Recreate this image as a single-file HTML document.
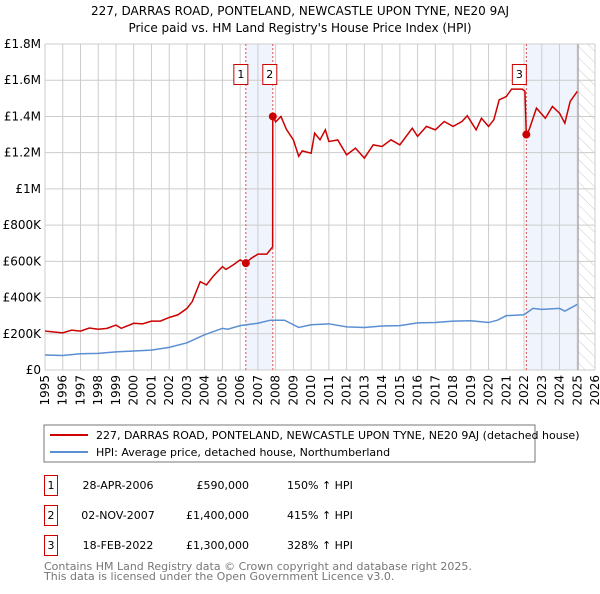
<!DOCTYPE html>
<html><head><meta charset="utf-8"><style>
body{margin:0;background:#fff;width:600px;height:590px;overflow:hidden;font-family:"DejaVu Sans","Liberation Sans",sans-serif}
svg text{font-family:"DejaVu Sans","Liberation Sans",sans-serif}
</style></head><body>
<svg id="chart" width="600" height="590" xmlns="http://www.w3.org/2000/svg">
<defs><pattern id="hatch" width="8" height="8" patternUnits="userSpaceOnUse" patternTransform="rotate(-45)"><line x1="0" y1="0" x2="0" y2="8" stroke="#ccc" stroke-width="1"/></pattern></defs>
<text x="300" y="15" text-anchor="middle" font-size="12">227, DARRAS ROAD, PONTELAND, NEWCASTLE UPON TYNE, NE20 9AJ</text>
<text x="300" y="32" text-anchor="middle" font-size="12">Price paid vs. HM Land Registry's House Price Index (HPI)</text>
<g id="grid"></g><g id="marks"></g>
<rect x="44" y="425" width="491" height="37" fill="#fff" stroke="#777"/>
<line x1="50" y1="435" x2="88" y2="435" stroke="#cc0000" stroke-width="2"/>
<text x="96" y="439" font-size="11">227, DARRAS ROAD, PONTELAND, NEWCASTLE UPON TYNE, NE20 9AJ (detached house)</text>
<line x1="50" y1="452" x2="88" y2="452" stroke="#5b8fd4" stroke-width="2"/>
<text x="96" y="456" font-size="11">HPI: Average price, detached house, Northumberland</text>
<g font-size="11">
<rect x="44.5" y="475.5" width="13" height="20" fill="none" stroke="#cc0000"/><text x="51" y="489" text-anchor="middle">1</text>
<text x="118" y="489" text-anchor="middle">28-APR-2006</text><text x="249" y="489" text-anchor="end">£590,000</text><text x="287" y="489">150% ↑ HPI</text>
<rect x="44.5" y="505.5" width="13" height="20" fill="none" stroke="#cc0000"/><text x="51" y="519" text-anchor="middle">2</text>
<text x="118" y="519" text-anchor="middle">02-NOV-2007</text><text x="249" y="519" text-anchor="end">£1,400,000</text><text x="287" y="519">415% ↑ HPI</text>
<rect x="44.5" y="535.5" width="13" height="20" fill="none" stroke="#cc0000"/><text x="51" y="549" text-anchor="middle">3</text>
<text x="118" y="549" text-anchor="middle">18-FEB-2022</text><text x="249" y="549" text-anchor="end">£1,300,000</text><text x="287" y="549">328% ↑ HPI</text>
</g>
<text x="44" y="570" font-size="11" fill="#777">Contains HM Land Registry data © Crown copyright and database right 2025.</text>
<text x="44" y="580" font-size="11" fill="#777">This data is licensed under the Open Government Licence v3.0.</text>
</svg>
<script>
const yTicks=[0,200,400,600,800,1000,1200,1400,1600,1800];
const yTickLabels=["£0","£200K","£400K","£600K","£800K","£1M","£1.2M","£1.4M","£1.6M","£1.8M"];
const years=[1995,1996,1997,1998,1999,2000,2001,2002,2003,2004,2005,2006,2007,2008,2009,2010,2011,2012,2013,2014,2015,2016,2017,2018,2019,2020,2021,2022,2023,2024,2025,2026];
const redT=[1995,1995.5,1996,1996.5,1997,1997.5,1998,1998.5,1999,1999.3,2000,2000.5,2001,2001.5,2002,2002.5,2003,2003.3,2003.75,2004.1,2004.5,2005,2005.2,2005.6,2006,2006.32,2006.6,2007,2007.5,2007.83,2007.84,2008,2008.3,2008.6,2009,2009.3,2009.5,2010,2010.2,2010.5,2010.8,2011,2011.5,2012,2012.5,2013,2013.5,2014,2014.5,2015,2015.7,2016,2016.5,2017,2017.5,2018,2018.5,2018.8,2019.3,2019.6,2020,2020.3,2020.6,2021,2021.3,2021.9,2022.05,2022.13,2022.3,2022.7,2023.2,2023.6,2024,2024.3,2024.6,2025];
const redV=[215,210,205,220,215,232,225,230,248,230,258,255,270,270,290,305,340,378,488,470,520,571,555,580,608,590,615,640,640,680,1400,1370,1400,1330,1270,1180,1210,1197,1308,1271,1326,1262,1270,1188,1225,1170,1243,1234,1271,1243,1335,1290,1345,1326,1372,1345,1372,1404,1326,1390,1345,1382,1492,1510,1551,1551,1540,1293,1330,1446,1390,1455,1418,1363,1483,1538];
const blueT=[1995,1996,1997,1998,1999,2000,2001,2002,2003,2004,2005,2005.3,2006,2007,2007.7,2008.5,2009.3,2010,2011,2012,2013,2014,2015,2016,2017,2018,2019,2020,2020.5,2021,2022,2022.5,2023,2024,2024.3,2025];
const blueV=[83,80,90,92,100,105,110,125,150,195,230,225,245,258,275,275,235,250,255,238,235,243,245,260,262,270,272,262,275,300,305,340,335,340,325,362];
const saleT=[2006.32,2007.84,2022.13];
const saleV=[590,1400,1300];
const saleLabels=["1","2","3"];
const X0=45,X1=595,Y0=370,Y1=44;
const x=t=>X0+(t-1995)/(2026-1995)*(X1-X0);
const y=v=>Y0-v/1800*(Y0-Y1);
const NS="http://www.w3.org/2000/svg";
function mk(tag,attrs,parent,txt){const e=document.createElementNS(NS,tag);for(const k in attrs)e.setAttribute(k,attrs[k]);if(txt!==undefined)e.textContent=txt;parent.appendChild(e);return e;}
const g=document.getElementById('grid'),m=document.getElementById('marks');
let s=mk('rect',{x:x(saleT[0]),y:Y1,width:x(saleT[1])-x(saleT[0]),height:Y0-Y1,fill:'#f0f4fc'},g);


s=mk('rect',{x:x(saleT[2]),y:Y1,width:x(2025.05)-x(saleT[2]),height:Y0-Y1,fill:'#f0f4fc'},g);


s=mk('rect',{x:x(2025.05),y:Y1,width:X1-x(2025.05),height:Y0-Y1,fill:'url(#hatch)'},g);


yTicks.forEach((v,i)=>{
 const l=mk('line',{x1:X0,x2:X1,y1:y(v),y2:y(v),stroke:'#ccc'},g);
 
 
 const t=mk('text',{x:X0-4,y:y(v)+4,'text-anchor':'end','font-size':12},g,yTickLabels[i]);
 
 
});
years.forEach(yr=>{
 const l=mk('line',{x1:x(yr),x2:x(yr),y1:Y1,y2:Y0,stroke:'#ccc'},g);
 
 
 const t=mk('text',{x:0,y:0,'font-size':12,'text-anchor':'end',transform:`translate(${x(yr)+4},${Y0+5}) rotate(-90)`},g,String(yr));
 
 
});
const b=mk('line',{x1:x(2025.05),x2:x(2025.05),y1:Y1,y2:Y0,stroke:'#999'},g);


saleT.forEach((t,i)=>{
 const l=mk('line',{x1:x(t),x2:x(t),y1:Y1,y2:Y0,stroke:'#e05050','stroke-dasharray':'2,2'},m);
 
 
});
const bl=mk('polyline',{points:blueT.map((t,i)=>x(t)+','+y(blueV[i])).join(' '),fill:'none',stroke:'#5b8fd4','stroke-width':1.5},m);


const rl=mk('polyline',{points:redT.map((t,i)=>x(t)+','+y(redV[i])).join(' '),fill:'none',stroke:'#cc0000','stroke-width':1.5},m);


saleT.forEach((t,i)=>{
 const c=mk('circle',{cx:x(t),cy:y(saleV[i]),r:4,fill:'#cc0000'},m);
 
 
 const bx=(i===2?x(t)-14:x(t)-(i===0?12:10));
 const r=mk('rect',{x:bx,y:64.5,width:14,height:20,fill:'#fff',stroke:'#cc0000'},m);
 
 
 const tx=mk('text',{x:bx+7,y:78,'text-anchor':'middle','font-size':11},m,saleLabels[i]);
 
 
});
</script>
</body></html>
